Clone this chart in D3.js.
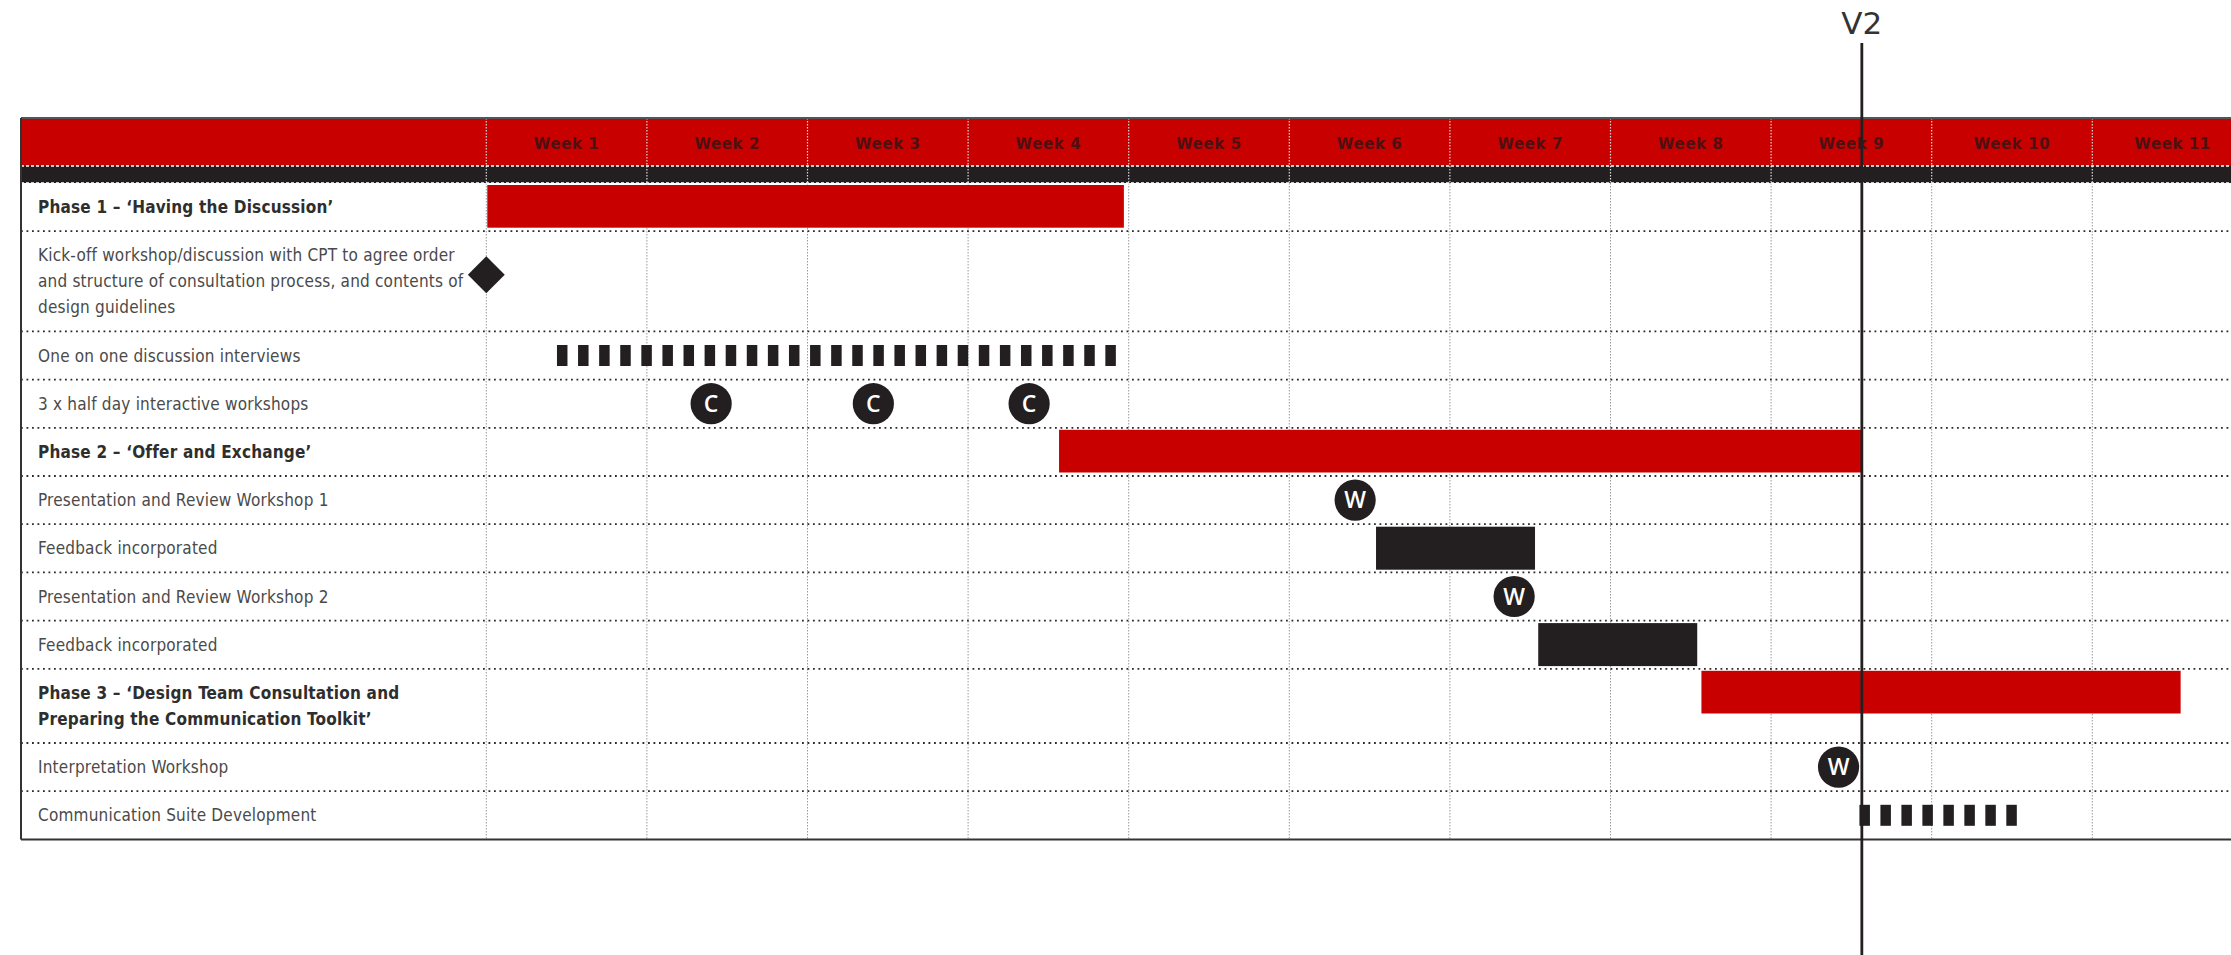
<!DOCTYPE html>
<html>
<head>
<meta charset="utf-8">
<script src="https://cdn.jsdelivr.net/npm/d3@7"></script>
<style>
  body { margin: 0; background: #fff; overflow: hidden; }
  text { font-family: "DejaVu Sans Condensed", "DejaVu Sans", sans-serif; }
</style>
</head>
<body>
<script>
// column headings
let weeks = ["Week 1", "Week 2", "Week 3", "Week 4", "Week 5", "Week 6",
  "Week 7", "Week 8", "Week 9", "Week 10", "Week 11"];

// task rows, "\n" breaks a label over lines
let rowLabels = [
  "Phase 1 – ‘Having the Discussion’",
  "Kick-off workshop/discussion with CPT to agree order\nand structure of consultation process, and contents of\ndesign guidelines",
  "One on one discussion interviews",
  "3 x half day interactive workshops",
  "Phase 2 – ‘Offer and Exchange’",
  "Presentation and Review Workshop 1",
  "Feedback incorporated",
  "Presentation and Review Workshop 2",
  "Feedback incorporated",
  "Phase 3 – ‘Design Team Consultation and\nPreparing the Communication Toolkit’",
  "Interpretation Workshop",
  "Communication Suite Development"
];
let phaseRows = [0, 4, 9];

// timings in weeks from the start of week 1
let phaseBars = [
  { row: 0, start: 0, end: 3.97 },
  { row: 4, start: 3.56, end: 8.56 },
  { row: 9, start: 7.56, end: 10.55 }
];
let feedbackBars = [
  { row: 6, start: 5.54, end: 6.53 },
  { row: 8, start: 6.55, end: 7.54 }
];
let dashRuns = [
  { row: 2, start: 0.44, end: 3.92, count: 27 },
  { row: 11, start: 8.55, end: 9.53, count: 8 }
];
let sessions = [
  { row: 3, week: 1.40, letter: "C" },
  { row: 3, week: 2.41, letter: "C" },
  { row: 3, week: 3.38, letter: "C" },
  { row: 5, week: 5.41, letter: "W" },
  { row: 7, week: 6.40, letter: "W" },
  { row: 10, week: 8.42, letter: "W" }
];
let milestones = [{ row: 1, week: 0 }];
let versions = [{ label: "V2", week: 8.565 }];

let red = "#c80000", dark = "#231f20";

let svg = d3.select("body").append("svg")
  .attr("width", 2231)
  .attr("height", 955);

let left = 21, tableTop = 118, headBottom = 166, bandBottom = 183, right = 2262;
let x = d3.scaleLinear().domain([0, 11]).range([486.3, 486.3 + 11 * 160.6]);

// row heights grow with the number of label lines
let lines = rowLabels.map(function (d) { return d.split("\n"); });
let rowTop = [], y0 = bandBottom;
lines.forEach(function (l) { rowTop.push(y0); y0 += 22.2 + 26 * l.length; });
let tableBottom = y0;
function rowH(i) { return 22.2 + 26 * lines[i].length; }
function rowMid(i) { return rowTop[i] + rowH(i) / 2; }

// header
svg.append("rect").attr("x", left).attr("y", tableTop)
  .attr("width", right - left).attr("height", headBottom - tableTop).attr("fill", red);
svg.append("rect").attr("x", left).attr("y", headBottom)
  .attr("width", right - left).attr("height", bandBottom - headBottom).attr("fill", dark);

svg.append("g").selectAll("text")
  .data(weeks).enter().append("text")
  .attr("x", function (d, i) { return x(i + 0.5); })
  .attr("y", 149)
  .attr("text-anchor", "middle")
  .style("font-family", "'DejaVu Sans', sans-serif")
  .style("font-weight", "bold")
  .style("font-size", "15px")
  .style("letter-spacing", "0.6px")
  .attr("fill", "#4e1010")
  .text(function (d) { return d; });

// column lines
let cols = d3.range(0, 12);
svg.append("g").selectAll("line")
  .data(cols).enter().append("line")
  .attr("x1", function (d) { return x(d); }).attr("x2", function (d) { return x(d); })
  .attr("y1", tableTop).attr("y2", bandBottom)
  .attr("stroke", "#d9d9d9").attr("stroke-width", 1.2).attr("stroke-dasharray", "1.5,1.5");
svg.append("g").selectAll("line")
  .data(cols).enter().append("line")
  .attr("x1", function (d) { return x(d); }).attr("x2", function (d) { return x(d); })
  .attr("y1", bandBottom).attr("y2", tableBottom)
  .attr("stroke", "#9a9a9a").attr("stroke-width", 1).attr("stroke-dasharray", "1.5,1.5");

// white dotted edges of the dark band
svg.append("g").selectAll("line")
  .data([headBottom, bandBottom]).enter().append("line")
  .attr("x1", left).attr("x2", right).attr("y1", function (d) { return d; }).attr("y2", function (d) { return d; })
  .attr("stroke", "#fff").attr("stroke-width", 1.5).attr("stroke-dasharray", "3,2");

// dotted row separators
svg.append("g").selectAll("line")
  .data(rowTop.slice(1)).enter().append("line")
  .attr("x1", left).attr("x2", right).attr("y1", function (d) { return d; }).attr("y2", function (d) { return d; })
  .attr("stroke", "#2a2a2a").attr("stroke-width", 1.8).attr("stroke-dasharray", "1.8,3.7");

// labels
let labels = svg.append("g").selectAll("text")
  .data(lines).enter().append("text")
  .attr("fill", function (d, i) { return phaseRows.indexOf(i) >= 0 ? "#2e2e2e" : "#4a4a4a"; })
  .style("font-weight", function (d, i) { return phaseRows.indexOf(i) >= 0 ? "bold" : "normal"; })
  .style("font-size", "17px")
  .style("letter-spacing", "0.2px");
labels.selectAll("tspan")
  .data(function (d, i) { return d.map(function (t, j) { return { t: t, j: j, n: d.length, row: i }; }); })
  .enter().append("tspan")
  .attr("x", 38)
  .attr("y", function (d) { return rowMid(d.row) + (d.j - (d.n - 1) / 2) * 26 + 6; })
  .text(function (d) { return d.t; });

// phase bars
svg.append("g").selectAll("rect")
  .data(phaseBars).enter().append("rect")
  .attr("x", function (d) { return x(d.start) + 1; })
  .attr("width", function (d) { return x(d.end) - x(d.start) - 1; })
  .attr("y", function (d) { return rowTop[d.row] + 2; })
  .attr("height", 42.7)
  .attr("fill", red);

// feedback bars
svg.append("g").selectAll("rect")
  .data(feedbackBars).enter().append("rect")
  .attr("x", function (d) { return x(d.start); })
  .attr("width", function (d) { return x(d.end) - x(d.start); })
  .attr("y", function (d) { return rowTop[d.row] + 2.5; })
  .attr("height", 43)
  .attr("fill", dark);

// dashed runs
let dashW = 10.5;
dashRuns.forEach(function (r) {
  let pitch = (x(r.end) - x(r.start) - dashW) / (r.count - 1);
  svg.append("g").selectAll("rect")
    .data(d3.range(r.count)).enter().append("rect")
    .attr("x", function (i) { return x(r.start) + i * pitch; })
    .attr("y", rowMid(r.row) - 10.5)
    .attr("width", dashW)
    .attr("height", 21)
    .attr("fill", dark);
});

// milestone diamond
svg.append("g").selectAll("path")
  .data(milestones).enter().append("path")
  .attr("d", d3.symbol().type(d3.symbolSquare).size(680))
  .attr("transform", function (d) { return "translate(" + x(d.week) + "," + (rowMid(d.row) - 6.5) + ") rotate(45)"; })
  .attr("fill", dark);

// workshop sessions
let s = svg.append("g").selectAll("g")
  .data(sessions).enter().append("g")
  .attr("transform", function (d) { return "translate(" + x(d.week) + "," + rowMid(d.row) + ")"; });
s.append("circle").attr("r", 20.6).attr("fill", dark);
s.append("text")
  .attr("text-anchor", "middle")
  .attr("y", 8)
  .attr("fill", "#fff")
  .style("font-family", "'Open Sans', sans-serif")
  .style("font-weight", "600")
  .style("font-size", "23px")
  .text(function (d) { return d.letter; });

// table frame
svg.append("line").attr("x1", left).attr("x2", right).attr("y1", tableTop).attr("y2", tableTop)
  .attr("stroke", "#555").attr("stroke-width", 2);
svg.append("line").attr("x1", left).attr("x2", right).attr("y1", tableBottom).attr("y2", tableBottom)
  .attr("stroke", "#333").attr("stroke-width", 2);
svg.append("line").attr("x1", left).attr("x2", left).attr("y1", tableTop).attr("y2", tableBottom)
  .attr("stroke", "#333").attr("stroke-width", 2);

// version marker
let v = svg.append("g").selectAll("g")
  .data(versions).enter().append("g");
v.append("line")
  .attr("x1", function (d) { return x(d.week); }).attr("x2", function (d) { return x(d.week); })
  .attr("y1", 43).attr("y2", 955)
  .attr("stroke", dark).attr("stroke-width", 2.8);
v.append("text")
  .attr("x", function (d) { return x(d.week); })
  .attr("y", 34)
  .attr("text-anchor", "middle")
  .attr("fill", "#333")
  .style("font-family", "'DejaVu Sans', sans-serif")
  .style("font-weight", "normal")
  .style("font-size", "31px")
  .text(function (d) { return d.label; });
</script>
</body>
</html>
